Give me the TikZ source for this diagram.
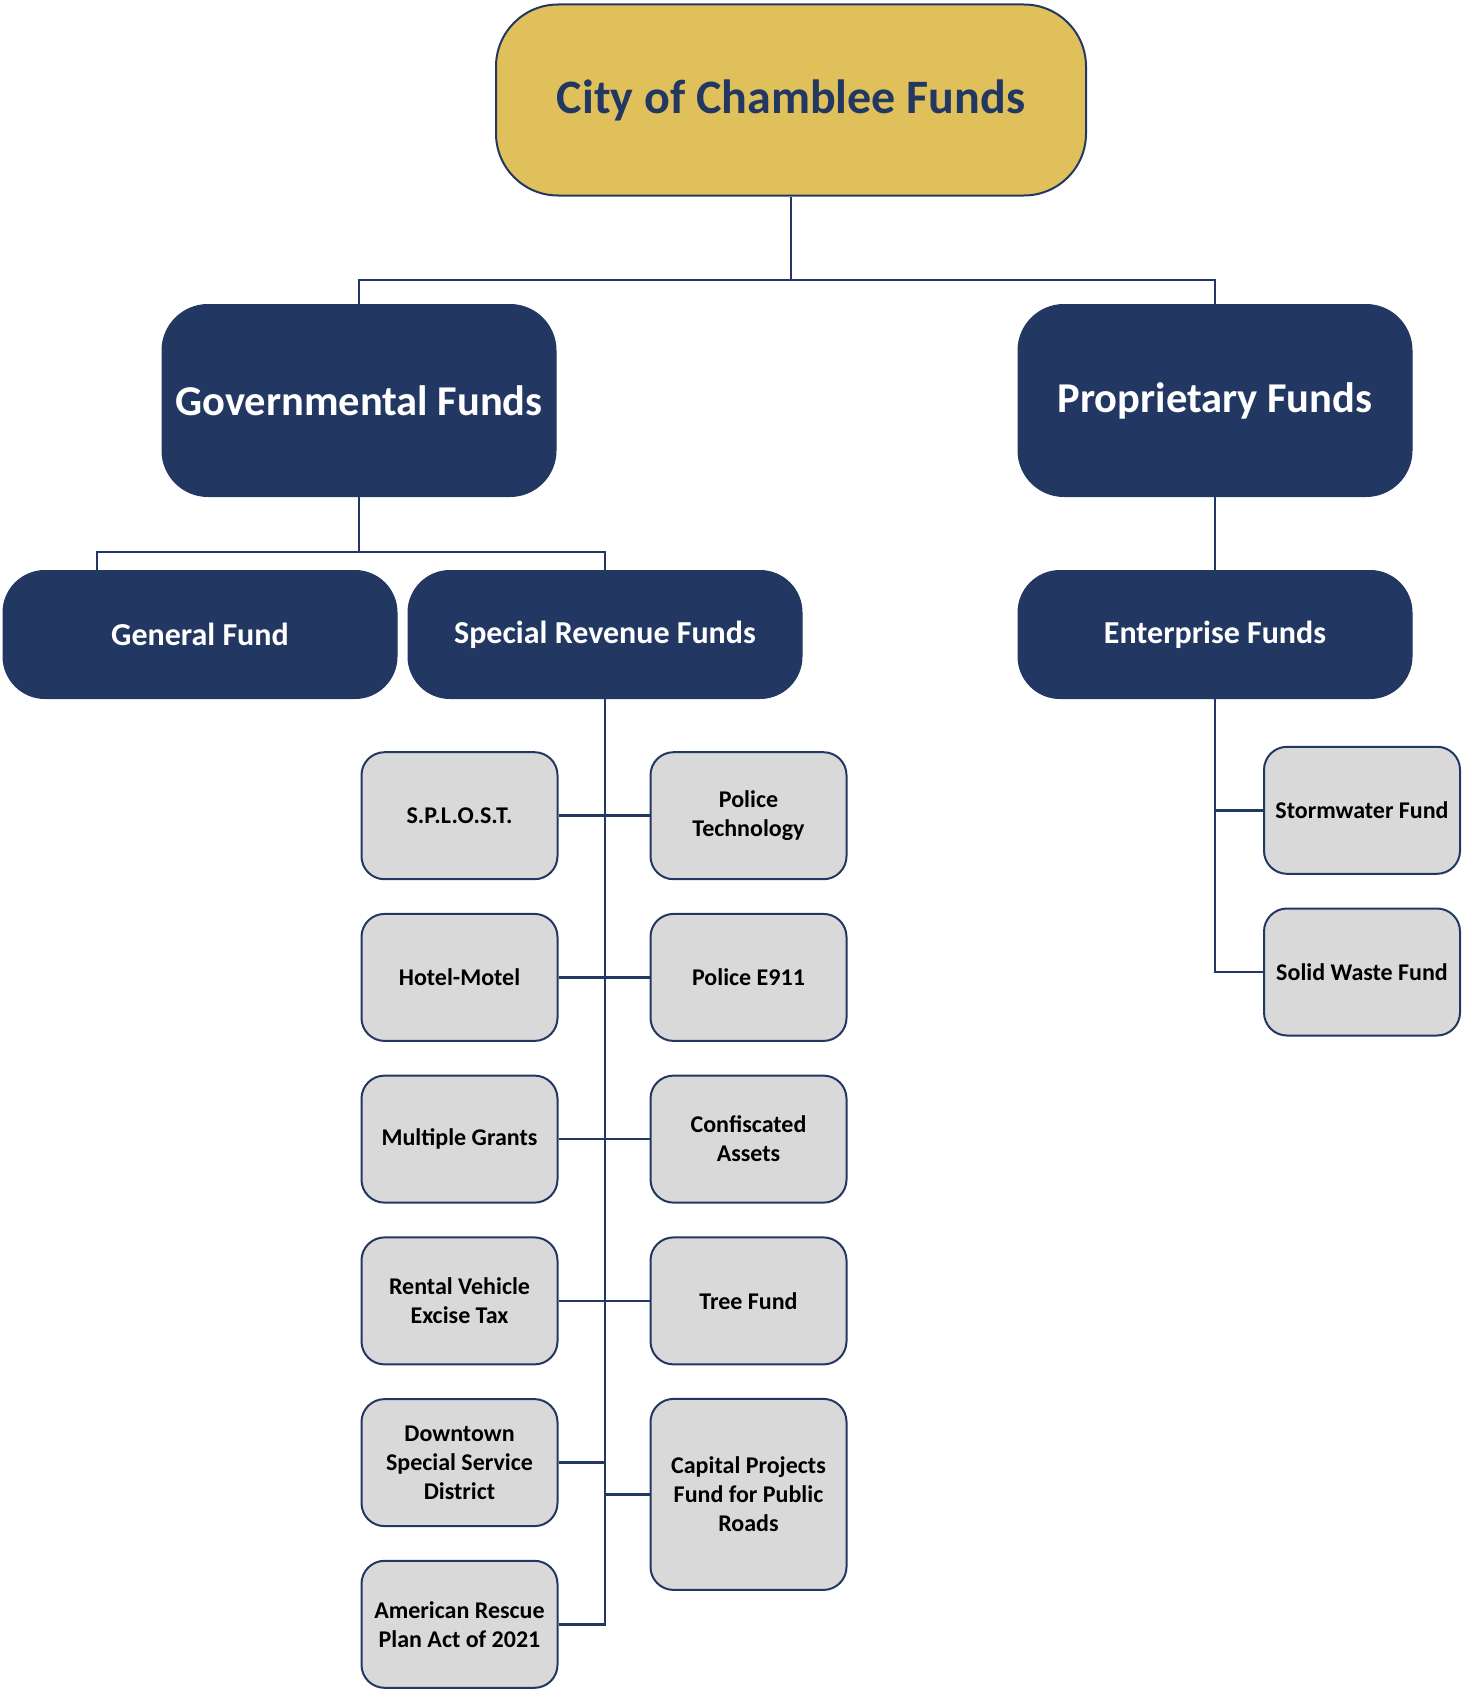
\documentclass[tikz,border=0pt]{standalone}
\usepackage{fontspec}
\setmainfont{Carlito}
\definecolor{navy}{RGB}{34,56,99}
\definecolor{gold}{RGB}{224,192,90}
\definecolor{lgray}{RGB}{217,217,217}
\begin{document}
\begin{tikzpicture}[x=1pt,y=-1pt,
  topbox/.style={draw=navy, fill=gold, line width=2pt, rounded corners=62pt, inner sep=0pt,
    minimum width=590pt, minimum height=191pt, text=navy, font=\fontsize{48}{58}\selectfont\bfseries},
  bigbox/.style={draw=navy, fill=navy, line width=1pt, rounded corners=46pt, inner sep=0pt,
    minimum width=394pt, minimum height=192pt, text=white, font=\fontsize{42.5}{50}\selectfont\bfseries},
  midbox/.style={draw=navy, fill=navy, line width=1pt, rounded corners=42pt, inner sep=0pt,
    minimum width=394pt, minimum height=128pt, text=white, font=\fontsize{32}{38}\selectfont\bfseries},
  smallbox/.style={draw=navy, fill=lgray, line width=2pt, rounded corners=23pt, inner sep=0pt,
    minimum width=196pt, minimum height=127pt, text=black, align=center,
    font=\fontsize{24}{29}\selectfont\bfseries},
  conn/.style={draw=navy, line width=2.6pt}
]
\useasboundingbox (0,0) rectangle (1461,1691);

\node[topbox] (city) at (791,100) {\raisebox{-3pt}{City of Chamblee Funds}};
\node[bigbox] (gov) at (359,400.5) {Governmental Funds};
\node[bigbox] (prop) at (1215,400.5) {\raisebox{-2pt}{Proprietary Funds}};
\node[midbox] (general) at (200,634.5) {General Fund};
\node[midbox] (special) at (605,634.5) {\raisebox{-2pt}{Special Revenue Funds}};
\node[midbox] (enterprise) at (1215,634.5) {\raisebox{-2pt}{Enterprise Funds}};

\node[smallbox] (splost) at (459.5,815.7) {S.P.L.O.S.T.};
\node[smallbox] (ptech) at (748.5,815.7) {Police\\Technology};
\node[smallbox] (hotel) at (459.5,977.4) {Hotel-Motel};
\node[smallbox] (e911) at (748.5,977.4) {Police E911};
\node[smallbox] (grants) at (459.5,1139.1) {Multiple Grants};
\node[smallbox] (confis) at (748.5,1139.1) {Confiscated\\Assets};
\node[smallbox] (rental) at (459.5,1300.9) {Rental Vehicle\\Excise Tax};
\node[smallbox] (tree) at (748.5,1300.9) {Tree Fund};
\node[smallbox] (downtown) at (459.5,1462.6) {Downtown\\Special Service\\District};
\node[smallbox, minimum height=191pt] (capital) at (748.5,1494.4) {Capital Projects\\Fund for Public\\Roads};
\node[smallbox] (arpa) at (459.5,1624.3) {American Rescue\\Plan Act of 2021};

\node[smallbox] (storm) at (1362,810.3) {Stormwater Fund};
\node[smallbox] (solid) at (1362,972) {Solid Waste Fund};

% top level
\coordinate (j0) at (791,280);
\draw[conn] (city.south) -- (j0);
\draw[conn] (gov.north) -- (gov.north |- j0) -- (prop.north |- j0) -- (prop.north);

% governmental
\draw[conn] (gov.south) -- ++(0,55);
\draw[conn] ([xshift=-103pt]general.north) -- ++(0,-18) -| (special.north);

% special revenue trunk
\draw[conn] (special.south) -- (special.south |- arpa.east) -- (arpa.east);
\draw[conn] (splost.east) -- (ptech.west);
\draw[conn] (hotel.east) -- (e911.west);
\draw[conn] (grants.east) -- (confis.west);
\draw[conn] (rental.east) -- (tree.west);
\draw[conn] (downtown.east) -- (downtown.east -| special.south);
\draw[conn] (capital.west) -- (capital.west -| special.south);

% proprietary
\draw[conn] (prop.south) -- (enterprise.north);
\draw[conn] (enterprise.south) |- (storm.west);
\draw[conn] (enterprise.south) |- (solid.west);
\end{tikzpicture}
\end{document}
